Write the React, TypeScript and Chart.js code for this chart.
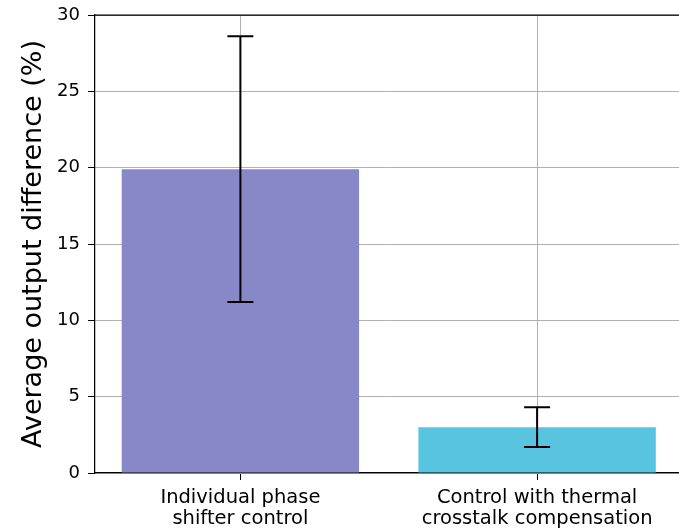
import React, { useEffect, useRef } from "react";
import { Chart, registerables } from "chart.js";

Chart.register(...registerables);

const categories: string[][] = [
  ["Individual phase", "shifter control"],
  ["Control with thermal", "crosstalk compensation"],
];
const values: number[] = [19.9, 3.0];
const errors: number[] = [8.7, 1.3];
const barColors: string[] = ["#8888c8", "#58c4e0"];
const yTicks: number[] = [0, 5, 10, 15, 20, 25, 30];
const yTitle = "Average output difference (%)";

const FONT = "'DejaVu Sans', sans-serif";
const W = 690;
const H = 529;

const errorBarPlugin = {
  id: "errorBars",
  afterDraw(chart: any) {
    const { ctx, chartArea } = chart;
    const xs = chart.scales.x;
    const ys = chart.scales.y;
    ctx.save();
    ctx.strokeStyle = "#000";
    ctx.lineWidth = 1.25;
    ctx.beginPath();
    ctx.moveTo(chartArea.left, chartArea.top);
    ctx.lineTo(chartArea.right, chartArea.top);
    ctx.moveTo(chartArea.right, chartArea.top);
    ctx.lineTo(chartArea.right, chartArea.bottom);
    ctx.stroke();
    ctx.lineWidth = 2;
    values.forEach((v, i) => {
      const x = xs.getPixelForValue(i);
      const yTop = ys.getPixelForValue(v + errors[i]);
      const yBot = ys.getPixelForValue(v - errors[i]);
      const cap = 13;
      ctx.beginPath();
      ctx.moveTo(x, yTop);
      ctx.lineTo(x, yBot);
      ctx.moveTo(x - cap, yTop);
      ctx.lineTo(x + cap, yTop);
      ctx.moveTo(x - cap, yBot);
      ctx.lineTo(x + cap, yBot);
      ctx.stroke();
    });
    ctx.restore();
  },
};

export default function App() {
  const ref = useRef<HTMLCanvasElement | null>(null);
  useEffect(() => {
    document.body.style.margin = "0";
    const canvas = ref.current;
    if (!canvas) return;
    const chart = new Chart(canvas, {
      type: "bar",
      data: {
        datasets: [
          {
            data: values.map((v, i) => ({ x: i, y: v })) as any,
            backgroundColor: barColors,
            borderWidth: 0,
            categoryPercentage: 1,
            barPercentage: 0.8,
          },
        ],
      },
      options: {
        animation: false,
        responsive: false,
        events: [],
        layout: { padding: { top: 15, left: 0, right: W - 682.5, bottom: 0 } },
        plugins: { legend: { display: false }, tooltip: { enabled: false } },
        scales: {
          x: {
            type: "linear",
            min: -0.49,
            max: 1.49,
            offset: false,
            z: 1,
            afterBuildTicks: (scale: any) => {
              scale.ticks = categories.map((_, i) => ({ value: i }));
            },
            afterFit: (scale: any) => {
              scale.height = H - 473;
              scale.paddingLeft = 0;
              scale.paddingRight = 0;
            },
            ticks: {
              autoSkip: false,
              maxRotation: 0,
              padding: 7,
              color: "#000",
              font: { family: FONT, size: 19.5, lineHeight: 1.08 },
              callback: (v: any) => categories[Math.round(Number(v))] ?? "",
            },
            grid: {
              offset: false,
              color: "#b0b0b0",
              tickColor: "#000",
              tickLength: 7,
              lineWidth: 1,
            },
            border: { color: "#000", width: 1.25 },
          },
          y: {
            type: "linear",
            min: 0,
            max: 30,
            z: 1,
            afterBuildTicks: (scale: any) => {
              scale.ticks = yTicks.map((v) => ({ value: v }));
            },
            afterFit: (scale: any) => {
              scale.width = 95;
              scale.paddingTop = 0;
              scale.paddingBottom = 0;
            },
            ticks: {
              padding: 8,
              color: "#000",
              font: { family: FONT, size: 18 },
              callback: (v: any) => String(v),
            },
            grid: {
              color: "#b0b0b0",
              tickColor: "#000",
              tickLength: 7,
              lineWidth: 1,
            },
            border: { color: "#000", width: 1.25 },
            title: {
              display: true,
              text: yTitle,
              color: "#000",
              font: { family: FONT, size: 27, lineHeight: 1.2 },
              padding: { top: 18, bottom: 0 },
            },
          },
        },
      },
      plugins: [errorBarPlugin],
    });
    return () => chart.destroy();
  }, []);
  return (
    <div style={{ width: 679, height: H, overflow: "hidden" }}>
      <div style={{ width: W, height: H }}>
        <canvas ref={ref} width={W} height={H} style={{ display: "block", width: W, height: H }} />
      </div>
    </div>
  );
}
